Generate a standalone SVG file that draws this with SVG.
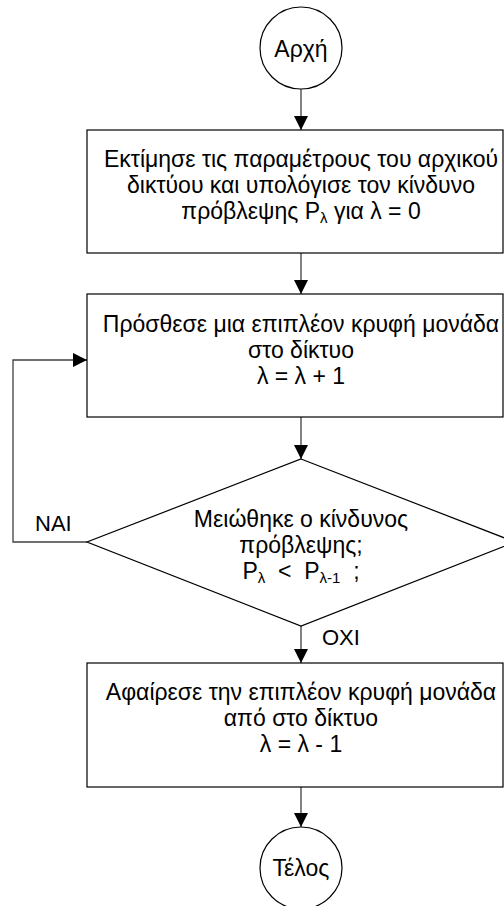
<svg xmlns="http://www.w3.org/2000/svg" width="504" height="906" viewBox="0 0 504 906">
<style>
.shape{fill:#fff;stroke:#000;stroke-width:1.2}
.conn{fill:none;stroke:#404040;stroke-width:1.3}
text{font-family:"Liberation Sans",Arial,sans-serif;font-size:23px;fill:#000;text-anchor:middle}
.lbl{text-anchor:start;font-size:22px}
.sub{font-size:15px}
</style>
<defs>
<marker id="arr" markerWidth="14" markerHeight="14" refX="14" refY="7" orient="auto" markerUnits="userSpaceOnUse">
<path d="M0,0 L14,7 L0,14 Z" fill="#000"/>
</marker>
</defs>
<rect width="504" height="906" fill="#fff"/>
<g id="connectors">
<line class="conn" x1="301" y1="89" x2="301" y2="130" marker-end="url(#arr)"/>
<line class="conn" x1="301" y1="253" x2="301" y2="294" marker-end="url(#arr)"/>
<line class="conn" x1="301" y1="417" x2="301" y2="459" marker-end="url(#arr)"/>
<line class="conn" x1="301" y1="626" x2="301" y2="663" marker-end="url(#arr)"/>
<line class="conn" x1="301" y1="787" x2="301" y2="827" marker-end="url(#arr)"/>
<polyline class="conn" points="87,542 13,542 13,360 87,360" marker-end="url(#arr)"/>
<text class="lbl" x="35" y="531">NAI</text>
<text class="lbl" x="322" y="645">OXI</text>
</g>
<g id="start">
<circle class="shape" cx="301" cy="48" r="41"/>
<text x="301" y="57">Αρχή</text>
</g>
<g id="init">
<rect class="shape" x="87" y="130" width="416" height="123"/>
<text x="301" y="167">Εκτίμησε τις παραμέτρους του αρχικού</text>
<text x="301" y="193">δικτύου και υπολόγισε τον κίνδυνο</text>
<text x="301" y="219">πρόβλεψης P<tspan class="sub" dy="4">λ</tspan><tspan dy="-4"> για λ = 0</tspan></text>
</g>
<g id="add">
<rect class="shape" x="87" y="294" width="416" height="123"/>
<text x="301" y="332">Πρόσθεσε μια επιπλέον κρυφή μονάδα</text>
<text x="301" y="358">στο δίκτυο</text>
<text x="301" y="384">λ = λ + 1</text>
</g>
<g id="decision">
<polygon class="shape" points="301,459 515,542 301,626 87,542"/>
<text x="301" y="527">Μειώθηκε ο κίνδυνος</text>
<text x="301" y="553">πρόβλεψης;</text>
<text x="301" y="579" xml:space="preserve">P<tspan class="sub" dy="4">λ</tspan><tspan dy="-4">  &lt;  P</tspan><tspan class="sub" dy="4">λ-1</tspan><tspan dy="-4">  ;</tspan></text>
</g>
<g id="remove">
<rect class="shape" x="87" y="663" width="416" height="124"/>
<text x="301" y="700">Αφαίρεσε την επιπλέον κρυφή μονάδα</text>
<text x="301" y="726">από στο δίκτυο</text>
<text x="301" y="752">λ = λ - 1</text>
</g>
<g id="end">
<circle class="shape" cx="301" cy="868" r="41"/>
<text x="301" y="876">Τέλος</text>
</g>
</svg>
